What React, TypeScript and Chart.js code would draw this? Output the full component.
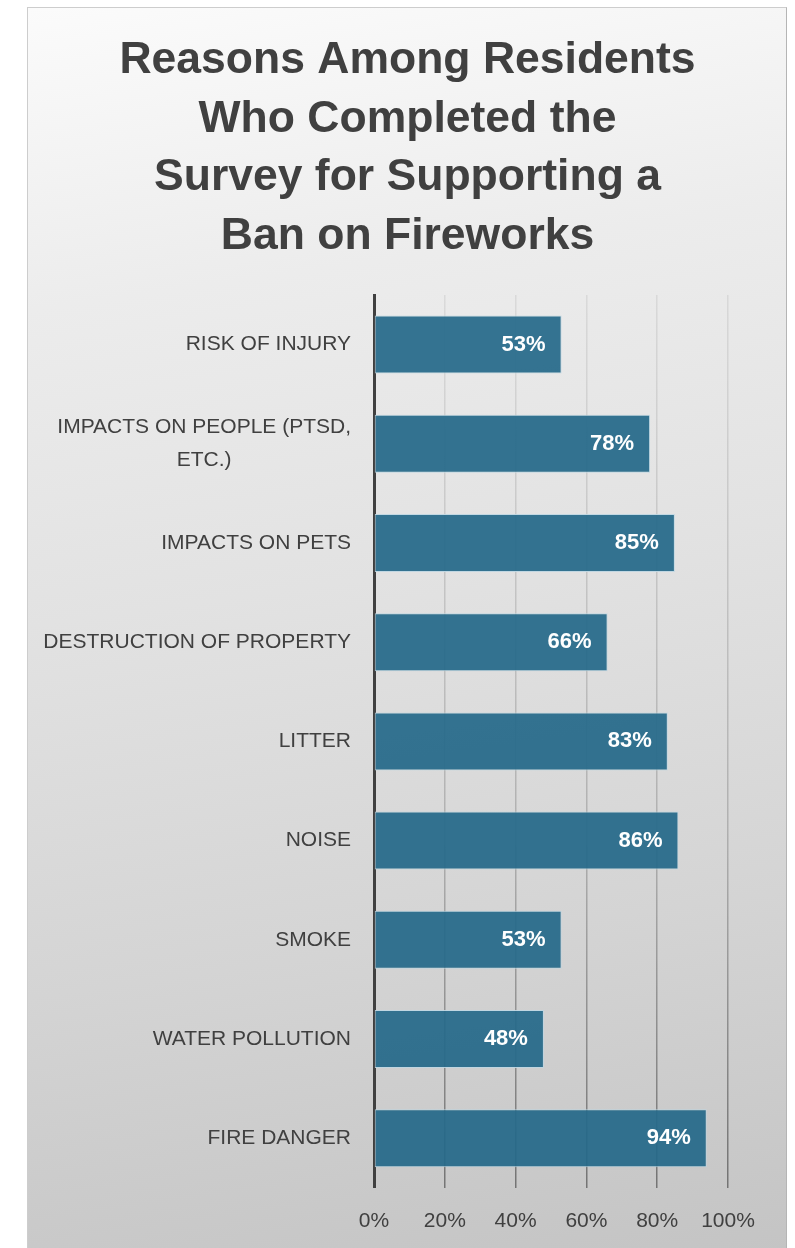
import React, { useEffect, useRef } from "react";
import { Chart, registerables } from "chart.js";

Chart.register(...registerables);

const titleLines = [
  "Reasons Among Residents",
  "Who Completed the",
  "Survey for Supporting a",
  "Ban on Fireworks",
];

const categories: string[][] = [
  ["RISK OF INJURY"],
  ["IMPACTS ON PEOPLE (PTSD,", "ETC.)"],
  ["IMPACTS ON PETS"],
  ["DESTRUCTION OF PROPERTY"],
  ["LITTER"],
  ["NOISE"],
  ["SMOKE"],
  ["WATER POLLUTION"],
  ["FIRE DANGER"],
];

const values = [53, 78, 85, 66, 83, 86, 53, 48, 94];

const xTicks = [0, 20, 40, 60, 80, 100];

const TEXT = "#404040";
const FONT = "'Liberation Sans', Arial, sans-serif";

const titlePlugin = {
  id: "customTitle",
  afterDraw(chart: any) {
    const ctx = chart.ctx;
    ctx.save();
    ctx.font = `bold 44.5px ${FONT}`;
    ctx.fillStyle = TEXT;
    ctx.textAlign = "center";
    ctx.textBaseline = "alphabetic";
    const cx = 379.5;
    titleLines.forEach((l, i) => ctx.fillText(l, cx, 65.3 + i * 58.5));
    ctx.restore();
  },
};

const categoryLabelsPlugin = {
  id: "categoryLabels",
  afterDraw(chart: any) {
    const ctx = chart.ctx;
    const yScale = chart.scales.y;
    const rightEdge = chart.chartArea.left - 23;
    ctx.save();
    ctx.font = `21px ${FONT}`;
    ctx.fillStyle = TEXT;
    ctx.textBaseline = "middle";
    ctx.textAlign = "center";
    const lineGap = 32.5;
    categories.forEach((lines, i) => {
      const yc = yScale.getPixelForValue(i);
      const blockW = Math.max(...lines.map((l) => ctx.measureText(l).width));
      const cx = rightEdge - blockW / 2;
      const start = yc - ((lines.length - 1) * lineGap) / 2;
      lines.forEach((l, j) => ctx.fillText(l, cx, start + j * lineGap));
    });
    ctx.restore();
  },
};

const valueLabelsPlugin = {
  id: "valueLabels",
  afterDatasetsDraw(chart: any) {
    const ctx = chart.ctx;
    const meta = chart.getDatasetMeta(0);
    ctx.save();
    ctx.font = `bold 22px ${FONT}`;
    ctx.fillStyle = "#ffffff";
    ctx.textBaseline = "middle";
    ctx.textAlign = "right";
    meta.data.forEach((bar: any, i: number) => {
      ctx.fillText(`${values[i]}%`, bar.x - 16, bar.y);
    });
    ctx.restore();
  },
};

export default function App() {
  const ref = useRef<HTMLCanvasElement | null>(null);

  useEffect(() => {
    if (!ref.current) return;
    const chart = new Chart(ref.current, {
      type: "bar",
      data: {
        labels: categories.map((c) => c.join(" ")),
        datasets: [
          {
            data: values,
            backgroundColor: "rgba(36,104,137,0.92)",
            borderColor: "rgba(190,214,226,0.9)",
            borderWidth: 1,
            borderSkipped: false,
            barPercentage: 0.585,
            categoryPercentage: 1,
          },
        ],
      },
      options: {
        indexAxis: "y",
        animation: false,
        responsive: false,
        maintainAspectRatio: false,
        layout: { padding: { left: 346, right: 58, top: 287, bottom: 5 } },
        plugins: {
          legend: { display: false },
          tooltip: { enabled: false },
          title: { display: false },
        },
        scales: {
          x: {
            min: 0,
            max: 100,
            afterBuildTicks: (scale: any) => {
              scale.ticks = xTicks.map((v) => ({ value: v }));
            },
            ticks: {
              color: TEXT,
              font: { family: FONT, size: 21 },
              padding: 21,
              callback: (v: any) => `${v}%`,
            },
            grid: {
              drawTicks: false,
              lineWidth: 1.5,
              color: (c: any) => {
                const area = c.chart.chartArea;
                if (!area) return "rgba(0,0,0,0.15)";
                const g = c.chart.ctx.createLinearGradient(0, area.top, 0, area.bottom);
                g.addColorStop(0, "rgba(0,0,0,0.07)");
                g.addColorStop(0.6, "rgba(0,0,0,0.18)");
                g.addColorStop(1, "rgba(0,0,0,0.42)");
                return g;
              },
            },
            border: { display: false },
          },
          y: {
            ticks: { display: false },
            grid: { display: false, drawTicks: false },
            border: { display: true, color: "#404040", width: 3 },
            afterFit: (scale: any) => {
              scale.width = 0;
            },
          },
        },
      },
      plugins: [categoryLabelsPlugin, valueLabelsPlugin, titlePlugin],
    });
    return () => chart.destroy();
  }, []);

  return (
    <div
      style={{
        position: "fixed",
        left: 27,
        top: 7,
        width: 760,
        height: 1270,
        boxSizing: "border-box",
        border: "1px solid #cdcdcd",
        borderRightColor: "#b5b5b5",
        background:
          "linear-gradient(172deg, #fbfbfb 0%, #ececec 22%, #e2e2e2 45%, #d4d4d4 72%, #c3c3c3 100%)",
        overflow: "hidden",
      }}
    >
      <canvas ref={ref} width={758} height={1252} style={{ display: "block", width: 758, height: 1252 }} />
    </div>
  );
}
